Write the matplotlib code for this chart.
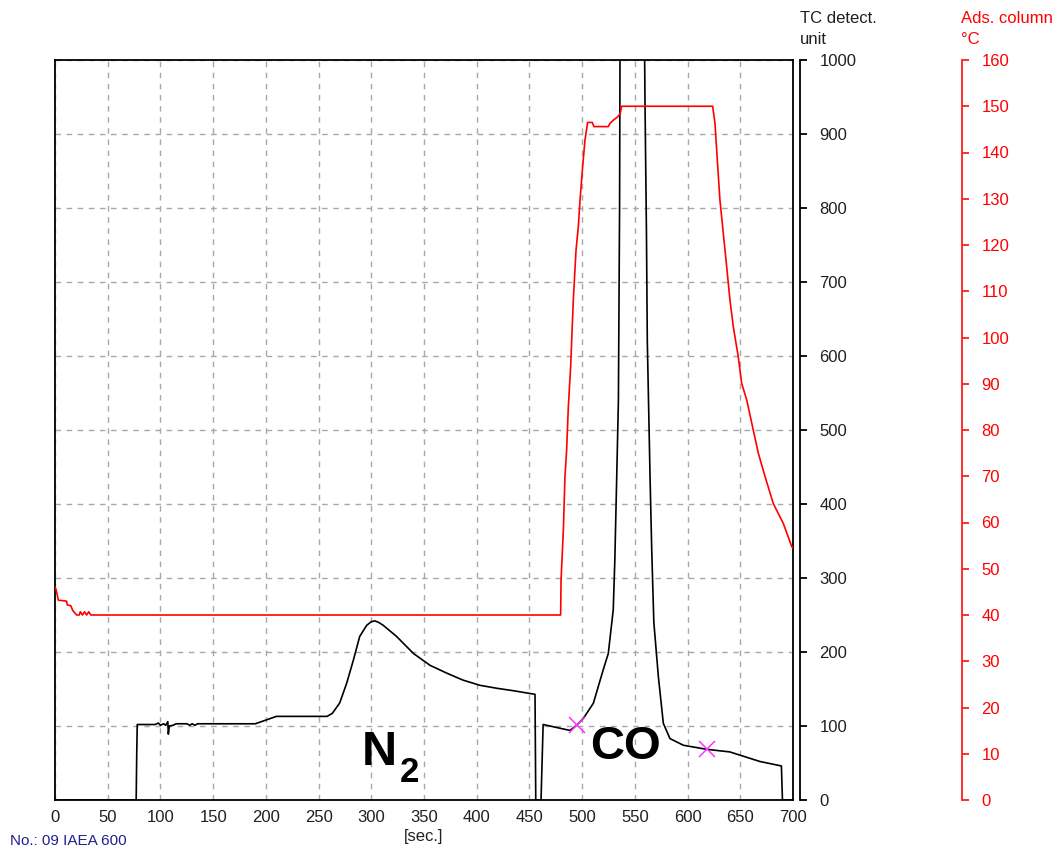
import numpy as np
import matplotlib
matplotlib.use('Agg')
import matplotlib.pyplot as plt

plt.rcParams['font.family'] = ['Liberation Sans', 'DejaVu Sans']

# TC detector signal (unit) vs time (sec)
tc_time = [0, 77, 77.5, 78, 95, 98, 100, 103, 105, 107, 107.5, 108.5, 112, 115,
           125, 128, 130, 133, 135, 190, 200, 210, 258, 263, 270, 276.7, 283,
           289, 295.6, 300, 303.5, 307, 311.4, 324, 340, 355.7, 371.5, 387, 403,
           419, 434.7, 455.3, 456, 461, 463, 488.5, 494.8, 501, 510.6, 520,
           524.8, 529.5, 531, 532.8, 534.4, 535.5, 536, 559, 559.6, 561, 561.8,
           564.4, 566, 568, 572.3, 577, 583.3, 596, 618, 640, 668.7, 689, 690, 700]
tc_value = [0, 0, 60, 102, 102, 104, 101, 103, 101, 106, 89, 100, 101, 103,
            103, 101, 103, 101, 103, 103, 108, 113, 113, 117, 131, 158, 189,
            221, 236, 241, 242, 240, 236, 221, 198, 182, 171.5, 162, 155,
            151, 147.7, 142.8, 0, 0, 102, 94, 101, 110, 130.6, 176,
            198, 257, 324, 437, 540, 800, 1050, 1050, 946, 766, 621,
            437, 338, 240, 166.6, 103.6, 83, 74, 68.5, 65, 52, 46, 0, 0]

# adsorption column temperature (°C) vs time (sec)
temp_time = [0, 1, 2, 3.2, 11, 11.6, 15, 16.8, 20.5, 23, 24, 26, 28, 30, 32, 34,
             37, 479.6, 480, 482.2, 483.7, 485.3, 486.9, 489.1, 491.6, 494.2,
             496.4, 498, 500.5, 502.7, 505.2, 509.6, 511.2, 524.8, 526.4, 529.6,
             533.7, 536, 537.5, 623.8, 626, 628.2, 630.7, 633.9, 637.1, 640.2,
             643.4, 648.1, 651.3, 656.1, 662.3, 667.1, 673.4, 681.3, 690.8,
             698.8, 700]
temp_value = [46, 45.5, 44.5, 43.2, 43, 42.2, 42, 41, 40, 40, 40.7, 40, 40.7, 40,
              40.7, 40, 40, 40, 47.6, 58.4, 69.9, 75.7, 85, 93.7, 108, 118.9,
              124, 129.7, 137, 142.7, 146.5, 146.5, 145.6, 145.6, 146.3, 147,
              147.7, 148.4, 150, 150, 146.3, 138.4, 129.7, 122.5, 115.3, 108.1,
              102.3, 95.8, 90.1, 86.5, 80, 75, 70, 64.1, 59.8, 54.8, 54.5]

# integration marks
mark_time = [495, 618]
mark_value = [101, 68.5]

x_ticks = np.arange(0, 701, 50)
tc_ticks = np.arange(0, 1001, 100)
temp_ticks = np.arange(0, 161, 10)

W, H = 1064, 849
fig = plt.figure(figsize=(W / 100, H / 100), dpi=100)
ax = fig.add_axes([55 / W, 49 / H, 738 / W, 740 / H])

ax.plot(tc_time, tc_value, color='black', linewidth=1.2, zorder=3)
ax.plot(mark_time, mark_value, linestyle='none', marker='x', markersize=11,
        markeredgewidth=1.1, color='#ff33ff', zorder=4)
ax.set_xlim(0, 700)
ax.set_ylim(0, 1000)
ax.set_xticks(x_ticks)
ax.set_yticks(tc_ticks)
ax.tick_params(axis='x', length=0, pad=7, labelsize=12, labelcolor='#202020')
ax.tick_params(axis='y', length=0, labelleft=False)
ax.grid(True, color='#a8a8a8', linestyle=(0, (4, 4)), linewidth=1)
for s in ax.spines.values():
    s.set_linewidth(1.3)
ax.set_xlabel('[sec.]', fontsize=12, labelpad=3, color='#202020')

ax.text(291, 47, 'N', fontsize=35, fontweight='bold', ha='left', va='baseline')
ax.text(327, 24, '2', fontsize=25, fontweight='bold', ha='left', va='baseline')
ax.text(541, 71, 'CO', fontsize=34, fontweight='bold', ha='center', va='center')

# TC detector axis
ax_tc = ax.twinx()
ax_tc.set_ylim(0, 1000)
ax_tc.set_yticks(tc_ticks)
for k in ['top', 'left', 'bottom']:
    ax_tc.spines[k].set_visible(False)
ax_tc.spines['right'].set_position(('outward', 7 * 72 / 100))
ax_tc.spines['right'].set_linewidth(1.3)
ax_tc.tick_params(axis='y', length=5, width=1.3, pad=9, labelsize=12,
                  labelcolor='#202020')

# temperature axis
ax_t = ax.twinx()
ax_t.plot(temp_time, temp_value, color='#ff0000', linewidth=1.2, zorder=3)
ax_t.set_ylim(0, 160)
ax_t.set_yticks(temp_ticks)
for k in ['top', 'left', 'bottom']:
    ax_t.spines[k].set_visible(False)
ax_t.spines['right'].set_position(('outward', 169 * 72 / 100))
ax_t.spines['right'].set_color('#ff2020')
ax_t.spines['right'].set_linewidth(1.3)
ax_t.tick_params(axis='y', length=5, width=1.3, pad=9, labelsize=12,
                 color='#ff2020', labelcolor='#ff0000')

fig.text(800 / W, 1 - 11 / H, 'TC detect.\nunit', fontsize=12, ha='left',
         va='top', color='#202020', linespacing=1.5)
fig.text(961 / W, 1 - 11 / H, 'Ads. column\n°C', fontsize=12, ha='left',
         va='top', color='#ff0000', linespacing=1.5)
fig.text(10 / W, 1 - 834 / H, 'No.: 09 IAEA 600', fontsize=11, ha='left',
         va='top', color='#202090')

fig.savefig('out.png', dpi=100)
